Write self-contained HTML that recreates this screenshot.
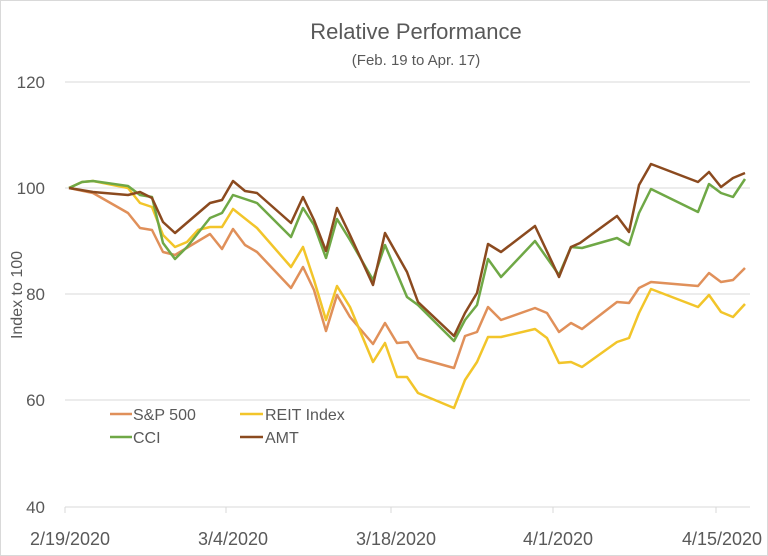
<!DOCTYPE html>
<html><head><meta charset="utf-8"><style>
body{margin:0;background:#fff}
svg{display:block;font-family:"Liberation Sans",sans-serif}
</style></head><body>
<svg width="768" height="556" viewBox="0 0 768 556">
<rect x="0.5" y="0.5" width="767" height="555" fill="#fff" stroke="#d9d9d9"/>
<text x="416" y="39" text-anchor="middle" font-size="22" fill="#595959">Relative Performance</text>
<text x="416" y="65" text-anchor="middle" font-size="15" fill="#595959">(Feb. 19 to Apr. 17)</text>
<g stroke="#d9d9d9" stroke-width="1">
<line x1="65" y1="82" x2="750" y2="82"/><line x1="65" y1="188" x2="750" y2="188"/>
<line x1="65" y1="294" x2="750" y2="294"/><line x1="65" y1="400" x2="750" y2="400"/>
<line x1="65" y1="507" x2="750" y2="507"/>
<line x1="65" y1="507" x2="65" y2="513"/><line x1="226" y1="507" x2="226" y2="513"/><line x1="391" y1="507" x2="391" y2="513"/><line x1="553" y1="507" x2="553" y2="513"/><line x1="716" y1="507" x2="716" y2="513"/>
</g>
<g font-size="17" fill="#595959" text-anchor="end">
<text x="45" y="88">120</text><text x="45" y="194">100</text><text x="45" y="300">80</text><text x="45" y="406">60</text><text x="45" y="513">40</text>
</g>
<g font-size="18" fill="#595959" text-anchor="middle">
<text x="70" y="545">2/19/2020</text><text x="233" y="545">3/4/2020</text><text x="396" y="545">3/18/2020</text><text x="558" y="545">4/1/2020</text><text x="722" y="545">4/15/2020</text>
</g>
<text transform="translate(22,295) rotate(-90)" text-anchor="middle" font-size="16" fill="#595959">Index to 100</text>
<g fill="none" stroke-width="2.5" stroke-linejoin="round">
<polyline stroke="#E0905A" points="69,188 93,193 128,213 140,228 152,230 163,252 175,255 210,234 222,249 233,229 245,245 257,252 291,288 303,267 314,290 326,331 337,295 350,317 373,344 385,323 397,343 408,342 418,358 454,368 465,336 477,332 488,307 501,320 535,308 547,313 559,332 571,323 582,329 617,302 629,303 639,288 651,282 698,286 709,273 721,282 733,280 745,268"/>
<polyline stroke="#F2C52A" points="69,188 82,182 93,181 128,188 140,203 152,207 163,235 175,247 187,242 198,230 210,227 222,227 233,209 257,228 291,267 303,247 314,280 326,320 337,286 350,307 373,362 385,343 397,377 407,377 418,393 454,408 465,380 477,362 488,337 501,337 535,329 547,338 559,363 571,362 582,367 617,342 629,338 639,313 651,289 698,307 709,295 721,312 733,317 745,304"/>
<polyline stroke="#6FA846" points="69,188 82,182 93,181 128,186 140,195 152,197 163,243 175,259 187,247 210,218 222,213 233,195 257,203 291,237 303,208 314,225 326,258 337,219 350,240 373,280 385,245 407,297 418,305 454,341 465,320 477,305 488,259 501,277 535,241 559,275 571,247 582,248 617,238 629,245 639,213 651,189 698,212 709,184 721,193 733,197 745,179"/>
<polyline stroke="#8B4A1F" points="69,188 93,192 128,195 140,192 152,198 163,222 175,233 210,203 222,200 233,181 245,191 257,193 291,223 303,197 314,220 326,251 337,208 350,235 373,285 385,233 407,272 418,302 454,336 465,313 477,293 488,244 501,252 535,226 559,277 571,247 580,243 617,216 629,232 639,185 651,164 698,182 709,172 721,187 733,178 745,173"/>
</g>
<g stroke-width="2.5">
<line x1="110" y1="414" x2="132" y2="414" stroke="#E0905A"/>
<line x1="240" y1="414" x2="263" y2="414" stroke="#F2C52A"/>
<line x1="110" y1="437" x2="132" y2="437" stroke="#6FA846"/>
<line x1="240" y1="437" x2="263" y2="437" stroke="#8B4A1F"/>
</g>
<g font-size="16" fill="#595959">
<text x="133" y="420">S&amp;P 500</text><text x="265" y="420">REIT Index</text>
<text x="133" y="443">CCI</text><text x="265" y="443">AMT</text>
</g>
</svg>
</body></html>
